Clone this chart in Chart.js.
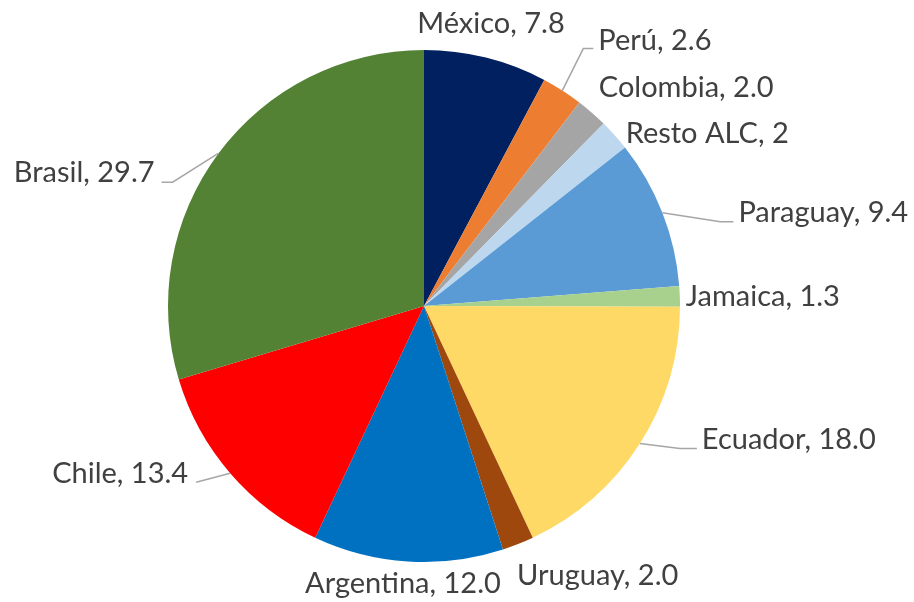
<!DOCTYPE html>
<html>
<head>
  <meta charset="utf-8">
  <title>Pie chart</title>
  <script src="https://cdn.jsdelivr.net/npm/chart.js"></script>
  <style>
    html, body { margin: 0; padding: 0; background: #fff; }
    #wrap { width: 914px; height: 602px; }
  </style>
</head>
<body>
  <div id="wrap"><canvas id="pie" width="914" height="602"></canvas></div>

  <script>
    // data
    const categories = ['México', 'Perú', 'Colombia', 'Resto ALC', 'Paraguay', 'Jamaica',
                        'Ecuador', 'Uruguay', 'Argentina', 'Chile', 'Brasil'];
    const values = [7.8, 2.6, 2.0, 2, 9.4, 1.3, 18.0, 2.0, 12.0, 13.4, 29.7];
    const valueText = ['7.8', '2.6', '2.0', '2', '9.4', '1.3', '18.0', '2.0', '12.0', '13.4', '29.7'];
    const colors = ['#002060', '#ED7D31', '#A5A5A5', '#BDD7EE', '#5B9BD5', '#A9D18E',
                    '#FFD966', '#9E480E', '#0070C0', '#FF0000', '#548235'];

    // label placement relative to the slice's outer edge midpoint (dx, dy to text baseline)
    // leader: points relative to the text anchor
    const labelLayout = [
      { dx: 5,   dy: -25, align: 'center' },
      { dx: 36,  dy: -41, align: 'left',  leader: [[-15, -1], [-5, -1]] },
      { dx: 7,   dy: -16, align: 'left' },
      { dx: 11,  dy: 8,   align: 'left' },
      { dx: 76,  dy: 9,   align: 'left',  leader: [[-18, 0], [-5, 0]] },
      { dx: 6,   dy: 10,  align: 'left' },
      { dx: 62,  dy: 5,   align: 'left',  leader: [[-22, 0], [-5, 0]] },
      { dx: -1,  dy: 41,  align: 'left' },
      { dx: -5,  dy: 32,  align: 'center' },
      { dx: -42, dy: 10,  align: 'right', leader: [[8, -1]] },
      { dx: -64, dy: 29,  align: 'right', leader: [[18, 0], [7, 0]] }
    ];

    const outsideLabels = {
      id: 'outsideLabels',
      afterDatasetsDraw(chart) {
        const ctx = chart.ctx;
        const meta = chart.getDatasetMeta(0);
        ctx.save();
        ctx.font = '29px Lato';
        ctx.fillStyle = '#404040';
        ctx.textBaseline = 'alphabetic';
        meta.data.forEach((arc, i) => {
          const mid = (arc.startAngle + arc.endAngle) / 2;
          const ex = arc.x + Math.cos(mid) * arc.outerRadius;
          const ey = arc.y + Math.sin(mid) * arc.outerRadius;
          const lay = labelLayout[i];
          const ax = ex + lay.dx, ay = ey + lay.dy;
          if (lay.leader) {
            ctx.strokeStyle = '#A6A6A6';
            ctx.lineWidth = 1.5;
            ctx.beginPath();
            ctx.moveTo(ex, ey);
            lay.leader.forEach(p => ctx.lineTo(ax + p[0], ay + p[1]));
            ctx.stroke();
          }
          ctx.textAlign = lay.align;
          ctx.fillText(categories[i] + ', ' + valueText[i], ax, ay);
        });
        ctx.restore();
      }
    };

    new Chart(document.getElementById('pie'), {
      type: 'pie',
      data: {
        labels: categories,
        datasets: [{ data: values, backgroundColor: colors, borderWidth: 0 }]
      },
      options: {
        responsive: false,
        animation: false,
        layout: { padding: { top: 50, bottom: 40, left: 168, right: 234 } },
        plugins: { legend: { display: false }, tooltip: { enabled: false } }
      },
      plugins: [outsideLabels]
    });
  </script>
</body>
</html>
